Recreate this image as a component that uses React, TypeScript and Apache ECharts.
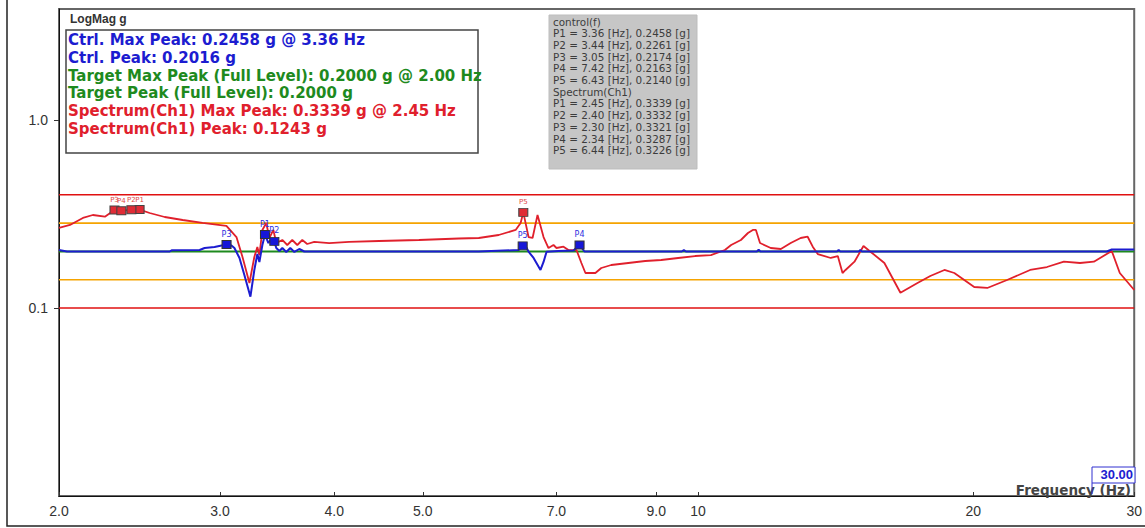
import React, { useEffect, useRef } from "react";
import * as echarts from "echarts";

// ---- data ----
const spectrumFreq = [
  2.0, 2.056, 2.124, 2.178, 2.245, 2.3, 2.34, 2.4, 2.45, 2.513, 2.61, 2.731, 2.871, 3.049,
  3.127, 3.175, 3.231, 3.271, 3.296, 3.313, 3.338, 3.371, 3.397, 3.432, 3.457, 3.51, 3.554,
  3.599, 3.645, 3.691, 3.737, 3.804, 3.95, 4.153, 4.479, 4.951, 5.475, 5.757, 6.053, 6.317,
  6.397, 6.44, 6.526, 6.592, 6.675, 6.777, 6.862, 6.949, 7.002, 7.126, 7.216, 7.363, 7.455,
  7.531, 7.722, 7.838, 8.037, 8.389, 8.754, 9.114, 9.511, 9.925, 10.33, 10.7, 10.87, 11.14,
  11.34, 11.48, 11.57, 11.69, 12.01, 12.32, 12.63, 12.95, 13.18, 13.35, 13.52, 13.97, 14.22,
  14.39, 14.5, 14.83, 15.17, 15.44, 15.99, 16.65, 17.38, 17.95, 18.6, 19.07, 20.05, 20.72,
  21.78, 23.08, 24.08, 25.13, 26.17, 27.1, 28.35, 28.93, 30.0,
];
const spectrumG = [
  0.2665, 0.2764, 0.3012, 0.3124, 0.3059, 0.3321, 0.3287, 0.3332, 0.3339, 0.3201, 0.3048,
  0.2938, 0.2833, 0.2731, 0.2385, 0.1868, 0.1358, 0.1868, 0.2111, 0.1913, 0.2601, 0.2833,
  0.2357, 0.2601, 0.2216, 0.23, 0.2163, 0.23, 0.2163, 0.23, 0.219, 0.2245, 0.2216, 0.2245,
  0.2272, 0.23, 0.2343, 0.2357, 0.2445, 0.2601, 0.2833, 0.3226, 0.2385, 0.2357, 0.3124,
  0.2385, 0.2085, 0.2163, 0.2085, 0.2119, 0.2034, 0.2034, 0.1735, 0.1535, 0.1535, 0.1632,
  0.1693, 0.1735, 0.1778, 0.18, 0.1845, 0.189, 0.1913, 0.2034, 0.2163, 0.23, 0.2506, 0.2601,
  0.2601, 0.2216, 0.2085, 0.206, 0.2216, 0.2357, 0.2394, 0.2119, 0.1937, 0.1845, 0.189,
  0.1535, 0.1593, 0.1763, 0.2137, 0.1993, 0.1735, 0.1206, 0.1358, 0.148, 0.1593, 0.1535,
  0.1293, 0.1278, 0.1409, 0.1593, 0.1652, 0.1763, 0.1735, 0.1763, 0.201, 0.1535, 0.1247,
];

const controlFreq = [
  2.0, 2.041, 2.643, 2.656, 2.85, 2.886, 2.959, 3.012, 3.05, 3.088, 3.111, 3.151, 3.19, 3.239,
  3.271, 3.296, 3.313, 3.338, 3.36, 3.389, 3.406, 3.44, 3.457, 3.484, 3.51, 3.545, 3.581,
  3.618, 3.663, 3.71, 5.757, 6.365, 6.43, 6.495, 6.526, 6.609, 6.725, 6.777, 6.829, 7.036,
  7.307, 7.42, 7.512, 9.6, 9.65, 9.7, 11.6, 11.65, 11.7, 14.2, 14.25, 14.3, 15.0, 15.05, 15.1,
  28.0, 28.35, 30.0,
];
const controlG = [
  0.2034, 0.1998, 0.1998, 0.2027, 0.2034, 0.2085, 0.2111, 0.215, 0.2174, 0.215, 0.2085,
  0.1845, 0.1498, 0.1148, 0.1593, 0.1937, 0.1757, 0.2163, 0.2458, 0.2216, 0.23, 0.2261,
  0.2085, 0.201, 0.2085, 0.1986, 0.2085, 0.1986, 0.206, 0.1998, 0.1998, 0.2034, 0.214,
  0.2085, 0.1993, 0.1845, 0.1593, 0.1757, 0.1993, 0.201, 0.202, 0.2163, 0.1998, 0.1998,
  0.2035, 0.1998, 0.1998, 0.2045, 0.1998, 0.1998, 0.204, 0.1998, 0.1998, 0.204, 0.1998,
  0.1998, 0.2048, 0.2048,
];

const controlPeakNames = ["P1", "P2", "P3", "P4", "P5"];
const controlPeakFreq = [3.36, 3.44, 3.05, 7.42, 6.43];
const controlPeakG = [0.2458, 0.2261, 0.2174, 0.2163, 0.214];
const spectrumPeakNames = ["P1", "P2", "P3", "P4", "P5"];
const spectrumPeakFreq = [2.45, 2.4, 2.3, 2.34, 6.44];
const spectrumPeakG = [0.3339, 0.3332, 0.3321, 0.3287, 0.3226];

const targetG = 0.2;
const abortLimits = [0.4, 0.1];
const alarmLimits = [0.2828, 0.1414];
const freqRange = [2, 30];
const xTickValues = [2, 3, 4, 5, 7, 9, 10, 20, 30];
const yTickValues = [0.1, 1];

const ctrlMaxPeak = { g: 0.2458, f: 3.36 };
const ctrlPeak = 0.2016;
const targetMaxPeak = { g: 0.2, f: 2.0 };
const targetPeak = 0.2;
const specMaxPeak = { g: 0.3339, f: 2.45 };
const specPeak = 0.1243;
const cursorValue = 30.0;

const BLUE = "#1c1cd0";
const RED = "#e0202c";
const GREEN = "#1e8a1e";
const ORANGE = "#f5a300";

export default function App() {
  const ref = useRef<HTMLDivElement>(null);
  useEffect(() => {
    if (!ref.current) return;
    const chart = echarts.init(ref.current, undefined, { renderer: "svg" });

    const legendLines = [
      { t: `Ctrl. Max Peak: ${ctrlMaxPeak.g.toFixed(4)} g @ ${ctrlMaxPeak.f.toFixed(2)} Hz`, c: BLUE },
      { t: `Ctrl. Peak: ${ctrlPeak.toFixed(4)} g`, c: BLUE },
      { t: `Target Max Peak (Full Level): ${targetMaxPeak.g.toFixed(4)} g @ ${targetMaxPeak.f.toFixed(2)} Hz`, c: GREEN },
      { t: `Target Peak (Full Level): ${targetPeak.toFixed(4)} g`, c: GREEN },
      { t: `Spectrum(Ch1) Max Peak: ${specMaxPeak.g.toFixed(4)} g @ ${specMaxPeak.f.toFixed(2)} Hz`, c: RED },
      { t: `Spectrum(Ch1) Peak: ${specPeak.toFixed(4)} g`, c: RED },
    ];

    const boxLines: string[] = ["control(f)"];
    controlPeakNames.forEach((n, i) =>
      boxLines.push(`${n} = ${controlPeakFreq[i].toFixed(2)} [Hz], ${controlPeakG[i].toFixed(4)} [g]`)
    );
    boxLines.push("Spectrum(Ch1)");
    spectrumPeakNames.forEach((n, i) =>
      boxLines.push(`${n} = ${spectrumPeakFreq[i].toFixed(2)} [Hz], ${spectrumPeakG[i].toFixed(4)} [g]`)
    );

    const hLine = (v: number, color: string, w: number) => ({
      type: "line",
      data: [
        [freqRange[0], v],
        [freqRange[1], v],
      ],
      showSymbol: false,
      lineStyle: { color, width: w },
      silent: true,
      z: 2,
    });

    const graphic: any[] = [
      // outer frame
      { type: "rect", shape: { x: 7, y: -5, width: 1150, height: 531 }, style: { fill: "none", stroke: "#222", lineWidth: 1.5 }, z: 100, silent: true },
      { type: "text", x: 70, y: 13, style: { text: "LogMag g", font: "bold 12px 'Liberation Sans', Arial, sans-serif", fill: "#333" }, z: 100 },
      { type: "rect", shape: { x: 66, y: 30, width: 412, height: 123 }, style: { fill: "#fff", stroke: "#444", lineWidth: 1.5 }, z: 100 },
      ...legendLines.map((l, i) => ({
        type: "text",
        x: 68,
        y: 32.5 + i * 17.8,
        style: { text: l.t, font: "bold 15px 'DejaVu Sans', Verdana, sans-serif", fill: l.c },
        z: 101,
      })),
      { type: "rect", shape: { x: 549, y: 15, width: 148, height: 154 }, style: { fill: "#c6c6c6", stroke: "#bdbdbd", lineWidth: 1 }, z: 100 },
      ...boxLines.map((t, i) => ({
        type: "text",
        x: 553,
        y: 16.5 + i * 11.7,
        style: { text: t, font: "10.4px 'DejaVu Sans', Verdana, sans-serif", fill: "#3c3c3c" },
        z: 101,
      })),
      { type: "rect", shape: { x: 1092, y: 467, width: 43, height: 16 }, style: { fill: "#fff", stroke: "#3030d0", lineWidth: 1 }, z: 100 },
      { type: "line", shape: { x1: 1092, y1: 483, x2: 1092, y2: 494 }, style: { stroke: "#3030d0", lineWidth: 1 }, z: 102 },
      { type: "text", x: 1133, y: 468, style: { text: cursorValue.toFixed(2), font: "bold 13px 'Liberation Sans', Arial, sans-serif", fill: "#2020d0", align: "right" }, z: 101 },
      { type: "text", x: 1131, y: 483, style: { text: "Frequency (Hz)", font: "bold 13.5px 'DejaVu Sans', Verdana, sans-serif", fill: "#444", align: "right" }, z: 101 },
    ];

    chart.setOption({
      animation: false,
      grid: { left: 59, right: 8, top: 9, bottom: 32, show: true, borderColor: "#666", borderWidth: 2, backgroundColor: "#fff" },
      xAxis: {
        type: "log",
        logBase: 10,
        min: freqRange[0],
        max: freqRange[1],
        axisLine: { show: true, lineStyle: { color: "#111", width: 1 } },
        axisTick: { show: true, inside: true, length: 4, customValues: xTickValues, lineStyle: { color: "#333" } },
        minorTick: { show: false },
        splitLine: { show: false },
        axisLabel: {
          customValues: xTickValues,
          showMinLabel: true,
          showMaxLabel: true,
          color: "#333",
          fontSize: 14,
          fontFamily: "'Liberation Sans', Arial, sans-serif",
          margin: 8,
          formatter: (v: number) => (v < 10 ? v.toFixed(1) : String(Math.round(v))),
        },
      },
      yAxis: {
        type: "log",
        logBase: 10,
        min: 0.01,
        max: 3.894,
        axisLine: { show: true, lineStyle: { color: "#111", width: 1 } },
        axisTick: { show: true, length: 5, customValues: yTickValues, lineStyle: { color: "#333" } },
        splitLine: { show: false },
        axisLabel: {
          customValues: yTickValues,
          color: "#333",
          fontSize: 14,
          fontFamily: "'Liberation Sans', Arial, sans-serif",
          margin: 11,
          formatter: (v: number) => v.toFixed(1),
        },
      },
      series: [
        hLine(abortLimits[0], "#e01010", 1.6),
        hLine(abortLimits[1], "#e01010", 1.6),
        hLine(alarmLimits[0], ORANGE, 1.6),
        hLine(alarmLimits[1], ORANGE, 1.6),
        hLine(targetG, GREEN, 2),
        {
          type: "line",
          data: spectrumFreq.map((f, i) => [f, spectrumG[i]]),
          showSymbol: false,
          lineStyle: { color: RED, width: 1.8 },
          z: 3,
        },
        {
          type: "line",
          data: controlFreq.map((f, i) => [f, controlG[i]]),
          showSymbol: false,
          lineStyle: { color: BLUE, width: 2 },
          z: 4,
        },
        {
          type: "scatter",
          symbol: "rect",
          symbolSize: [9, 8],
          data: spectrumPeakFreq.map((f, i) => ({ value: [f, spectrumPeakG[i]], name: spectrumPeakNames[i] })),
          itemStyle: { color: "#e02c36", borderColor: "#444", borderWidth: 1, opacity: 1 },
          label: { show: true, position: "top", distance: 2, formatter: "{b}", fontSize: 7, color: "#e04848", fontFamily: "'DejaVu Sans', sans-serif" },
          labelLayout: { hideOverlap: false },
          z: 5,
        },
        {
          type: "scatter",
          symbol: "rect",
          symbolSize: [9, 8],
          data: controlPeakFreq.map((f, i) => ({ value: [f, controlPeakG[i]], name: controlPeakNames[i] })),
          itemStyle: { color: "#1616d8", borderColor: "#333", borderWidth: 1, opacity: 1 },
          label: { show: true, position: "top", distance: 2, formatter: "{b}", fontSize: 8, color: "#3030e0", fontFamily: "'DejaVu Sans', sans-serif" },
          z: 6,
        },
      ],
      graphic,
    });
    return () => chart.dispose();
  }, []);
  return (
    <div
      ref={ref}
      style={{ position: "fixed", left: 0, top: 0, width: 1145, height: 528, background: "#fff" }}
    />
  );
}
